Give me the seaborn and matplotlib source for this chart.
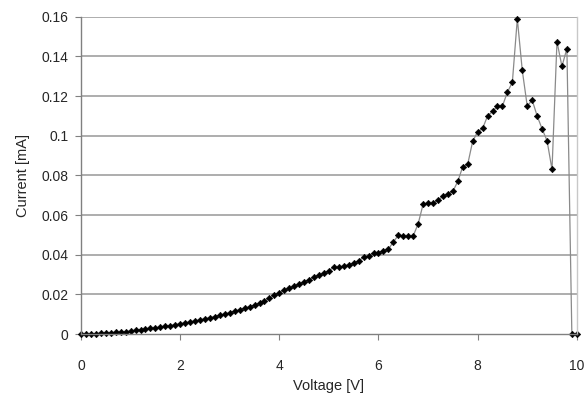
import numpy as np
import pandas as pd
import matplotlib.pyplot as plt
import seaborn as sns

# Voltage steps of 0.1 V from 0 to 10
voltage = [round(0.1 * i, 1) for i in range(101)]
current = [
    0.0000, 0.0000, 0.0001, 0.0002, 0.0003, 0.0005, 0.0006, 0.0008, 0.0010, 0.0012,
    0.0015, 0.0018, 0.0022, 0.0025, 0.0028, 0.0031, 0.0035, 0.0039, 0.0043, 0.0047,
    0.0052, 0.0056, 0.0061, 0.0066, 0.0071, 0.0077, 0.0082, 0.0088, 0.0094, 0.0101,
    0.0108, 0.0115, 0.0122, 0.0130, 0.0138, 0.0146, 0.0155, 0.0165, 0.0180, 0.0195,
    0.0208, 0.0220, 0.0230, 0.0240, 0.0252, 0.0263, 0.0275, 0.0287, 0.0296, 0.0307,
    0.0320, 0.0337, 0.0337, 0.0343, 0.0350, 0.0357, 0.0370, 0.0387, 0.0394, 0.0410,
    0.0410, 0.0420, 0.0428, 0.0465, 0.0498, 0.0492, 0.0492, 0.0495, 0.0556, 0.0655,
    0.0660, 0.0660, 0.0677, 0.0694, 0.0707, 0.0720, 0.0770, 0.0845, 0.0857, 0.0973,
    0.1020, 0.1037, 0.1100, 0.1123, 0.1150, 0.1150, 0.1220, 0.1270, 0.1590, 0.1330,
    0.1150, 0.1180, 0.1100, 0.1035, 0.0975, 0.0830, 0.1475, 0.1350, 0.1440, 0.0000,
    0.0000,
]
x_ticks = [0, 2, 4, 6, 8, 10]
y_ticks = [0, 0.02, 0.04, 0.06, 0.08, 0.1, 0.12, 0.14, 0.16]
y_labels = ["0", "0.02", "0.04", "0.06", "0.08", "0.1", "0.12", "0.14", "0.16"]

df = pd.DataFrame({"Voltage": voltage, "Current": current})

sns.set_style("white")
plt.rcParams["font.family"] = ["Liberation Sans", "DejaVu Sans"]

fig = plt.figure(figsize=(5.85, 4.01), dpi=100)
ax = fig.add_axes([0.1385, 0.167, 0.8475, 0.791])

for y in y_ticks[1:]:
    ax.axhline(y, color="#a0a0a0", lw=1.2, zorder=0)

sns.lineplot(data=df, x="Voltage", y="Current", ax=ax, color="#8a8a8a", lw=0.9,
             marker="D", markersize=3.3, markerfacecolor="black",
             markeredgecolor="black", markeredgewidth=0.4, clip_on=False)

ax.set_xlim(0, 10)
ax.set_ylim(0, 0.16)
ax.set_xticks(x_ticks)
ax.set_xticklabels([str(t) for t in x_ticks])
ax.set_yticks(y_ticks)
ax.set_yticklabels(y_labels)
ax.tick_params(axis="both", direction="out", length=4, width=0.8, color="#808080",
               labelsize=10, bottom=True, left=True)
ax.tick_params(axis="x", pad=14)
ax.tick_params(axis="y", pad=5)
ax.set_xlabel("Voltage [V]", fontsize=10.5, labelpad=4)
ax.set_ylabel("Current [mA]", fontsize=10.5, labelpad=8)

ax.spines["left"].set_color("#808080")
ax.spines["bottom"].set_color("#808080")
ax.spines["top"].set_visible(False)
ax.spines["right"].set_color("#c8c8c8")
for s in ax.spines.values():
    s.set_linewidth(1.0)

fig.savefig("out.png", dpi=100)
